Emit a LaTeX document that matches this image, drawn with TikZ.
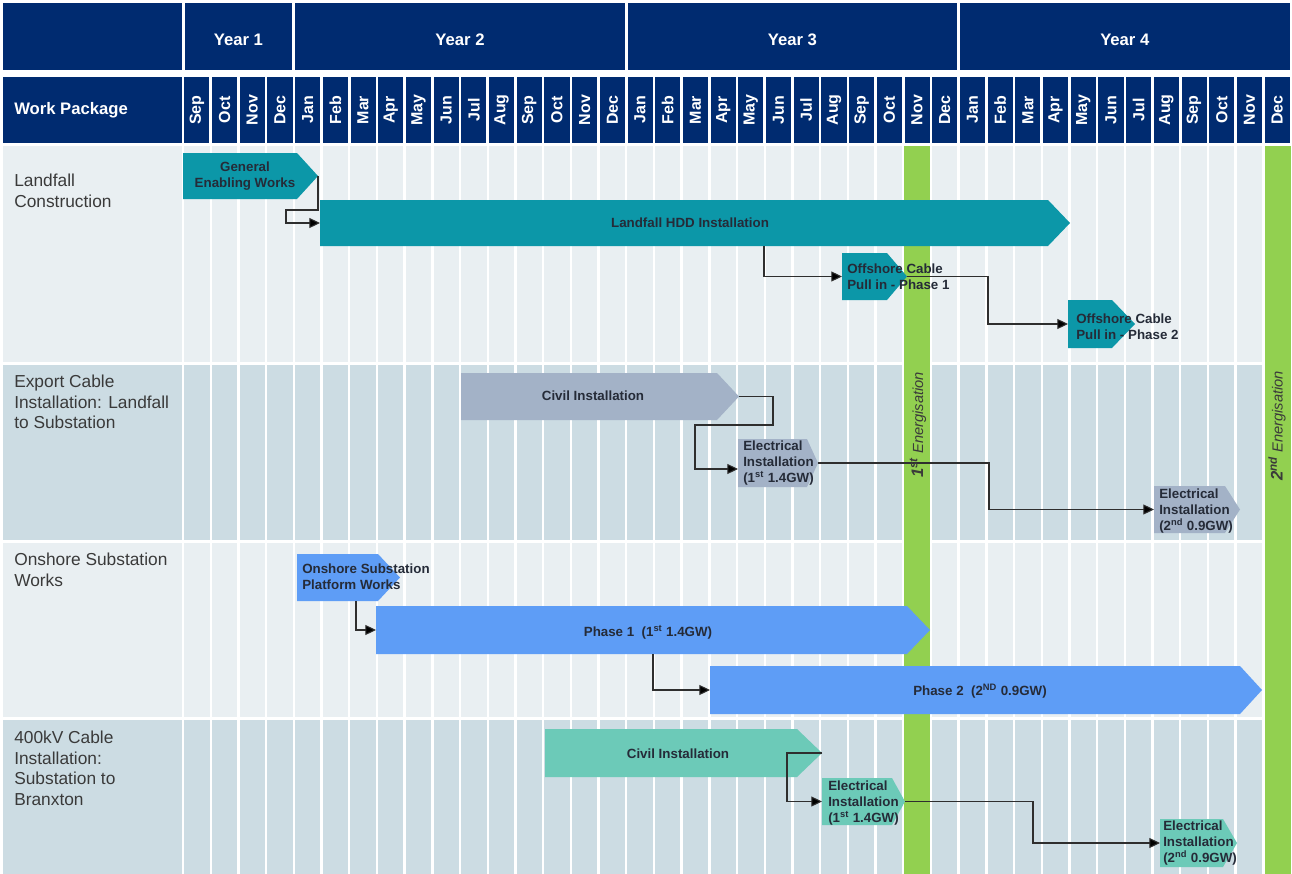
\documentclass[tikz,border=0pt]{standalone}
\usepackage{fontspec}
\setmainfont{Liberation Sans}
\usetikzlibrary{arrows.meta}
\definecolor{navy}{HTML}{002B70}
\definecolor{rowA}{HTML}{E9EFF2}
\definecolor{rowB}{HTML}{CCDCE3}
\definecolor{teal1}{HTML}{0C97A8}
\definecolor{grey2}{HTML}{A3B2C7}
\definecolor{blue3}{HTML}{5E9DF6}
\definecolor{mint4}{HTML}{6CCAB8}
\definecolor{egreen}{HTML}{92D050}
\definecolor{txt}{HTML}{252B38}
\definecolor{lab}{HTML}{3A3A3A}
\definecolor{lncol}{HTML}{2E2E2E}
\newcommand{\pent}[3]{\fill[#2] (#1.north west) -- ([xshift=-#3*0.75pt]#1.north east) -- (#1.east) -- ([xshift=-#3*0.75pt]#1.south east) -- (#1.south west) -- cycle;}
\begin{document}
\begin{tikzpicture}[x=0.75pt,y=-0.75pt,
 slot/.style={inner sep=0pt, outer sep=0pt, anchor=north west},
 hdr/.style={text=white, font=\fontsize{12.5}{15}\selectfont\bfseries, inner sep=0pt},
 month/.style={text=white, font=\fontsize{12}{14}\selectfont\bfseries, rotate=90, inner sep=0pt},
 rowlab/.style={text=lab, font=\fontsize{13}{15.4}\selectfont, align=left, anchor=north west, inner sep=0pt},
 bartxt/.style={text=txt, font=\fontsize{10}{11.8}\selectfont\bfseries, inner sep=0pt},
 conn/.style={draw=lncol, line width=0.8pt, -{Triangle[length=8pt,width=7.5pt,fill=black]}},
 energ/.style={text=lab, font=\fontsize{11}{13}\selectfont\itshape, rotate=90, inner sep=0pt}]
\path[use as bounding box, fill=white] (0,0) rectangle (1292,874);
% header year row
\fill[navy] (3,3) rectangle (181.5,70);
\fill[navy] (184.5,3) rectangle (292.3,70);
\fill[navy] (295.3,3) rectangle (624.7,70);
\fill[navy] (627.7,3) rectangle (957.1,70);
\fill[navy] (960.1,3) rectangle (1290,70);
\node[hdr] (y1) at (238.4,40) {Year 1};
\node[hdr] (y2) at (460,40) {Year 2};
\node[hdr] (y3) at (792.4,40) {Year 3};
\node[hdr] (y4) at (1124.8,40) {Year 4};
% month row
\fill[navy] (3,77) rectangle (181.5,143);
\node[hdr, anchor=west] (wp) at (14,110) {Work Package};
\foreach \m [count=\i from 0] in {Sep,Oct,Nov,Dec,Jan,Feb,Mar,Apr,May,Jun,Jul,Aug,Sep,Oct,Nov,Dec,Jan,Feb,Mar,Apr,May,Jun,Jul,Aug,Sep,Oct,Nov,Dec,Jan,Feb,Mar,Apr,May,Jun,Jul,Aug,Sep,Oct,Nov,Dec}{
  \fill[navy] ({183+27.7*\i+1.3},77) rectangle ({183+27.7*\i+27.7-1.3},143);
  \node[month] (m\i) at ({183+27.7*\i+13.85},110) {\m};
}
% body rows
\fill[rowA] (3,146) rectangle (1291,362);
\fill[rowB] (3,365) rectangle (1291,540);
\fill[rowA] (3,543) rectangle (1291,717);
\fill[rowB] (3,720) rectangle (1291,874);
\foreach \i in {0,...,40}{
  \draw[white, line width=1.8pt] ({183+27.7*\i},146) -- ({183+27.7*\i},874);
}
\fill[egreen] ({183+27.7*26+1.2},146) rectangle ({183+27.7*27-1.2},874);
\fill[egreen] ({183+27.7*39+1.2},146) rectangle ({183+27.7*40-0.5},874);
% row labels
\node[rowlab] (r1) at (14,174) {Landfall\\Construction};
\node[rowlab] (r2) at (14,375) {Export Cable\\Installation: Landfall\\to Substation};
\node[rowlab] (r3) at (14,553) {Onshore Substation\\Works};
\node[rowlab] (r4) at (14,731) {400kV Cable\\Installation:\\Substation to\\Branxton};
% bar slots
\node[slot, minimum width=135*0.75pt, minimum height=46*0.75pt] (gew) at (183,153) {};
\node[slot, minimum width=750*0.75pt, minimum height=46*0.75pt] (hdd) at (320,200) {};
\node[slot, minimum width=65*0.75pt, minimum height=47*0.75pt] (op1) at (842,253) {};
\node[slot, minimum width=67*0.75pt, minimum height=48*0.75pt] (op2) at (1068,300) {};
\node[slot, minimum width=278*0.75pt, minimum height=47*0.75pt] (civ2) at (461,373) {};
\node[slot, minimum width=80*0.75pt, minimum height=48*0.75pt] (el2a) at (738,439) {};
\node[slot, minimum width=86*0.75pt, minimum height=47*0.75pt] (el2b) at (1154,486) {};
\node[slot, minimum width=103*0.75pt, minimum height=47*0.75pt] (osp) at (297,554) {};
\node[slot, minimum width=554*0.75pt, minimum height=48*0.75pt] (ph1) at (376,606) {};
\node[slot, minimum width=552*0.75pt, minimum height=48*0.75pt] (ph2) at (710,666) {};
\node[slot, minimum width=277*0.75pt, minimum height=48*0.75pt] (civ4) at (545,729) {};
\node[slot, minimum width=83*0.75pt, minimum height=47*0.75pt] (el4a) at (822,778) {};
\node[slot, minimum width=77*0.75pt, minimum height=48*0.75pt] (el4b) at (1160,819) {};
\pent{gew}{teal1}{21}
\pent{hdd}{teal1}{22}
\pent{op1}{teal1}{20}
\pent{op2}{teal1}{23}
\pent{civ2}{grey2}{22}
\pent{el2a}{grey2}{11}
\pent{el2b}{grey2}{15}
\pent{osp}{blue3}{22}
\pent{ph1}{blue3}{23}
\pent{ph2}{blue3}{22}
\pent{civ4}{mint4}{25}
\pent{el4a}{mint4}{13}
\pent{el4b}{mint4}{14}
% connectors
\draw[conn] (gew.east) -- (318,210) -- (286,210) -- (286,223) -- (hdd.west);
\draw[conn] (hdd.south -| 764,0) -- (764,276.5) -- (op1.west);
\draw[conn] (op1.east) -- (op1.east -| 988,0) -- (988,324) -- (op2.west);
\draw[conn] (civ2.east) -- (civ2.east -| 773,0) -- (773,425) -- (695,425) -- (695,469) -- (el2a.west |- 0,469);
\draw[conn] (el2a.east) -- (el2a.east -| 989,0) -- (989,509.5) -- (el2b.west);
\draw[conn] (osp.south -| 356,0) -- (356,630) -- (ph1.west);
\draw[conn] (ph1.south -| 653,0) -- (653,690) -- (ph2.west);
\draw[conn] (civ4.east) -- (787,753) -- (787,801.5) -- (el4a.west);
\draw[conn] (el4a.east) -- (1033,801.5) -- (1033,843) -- (el4b.west);
% bar texts
\node[bartxt, align=center] (tgew) at (245,176) {General\\Enabling Works};
\node[bartxt] (thdd) at (690,223) {Landfall HDD Installation};
\node[bartxt, align=left, anchor=west] (top1) at (847,277) {Offshore Cable\\Pull in - Phase 1};
\node[bartxt, align=left, anchor=west] (top2) at (1076,327) {Offshore Cable\\Pull in - Phase 2};
\node[bartxt] (tciv2) at (593,396) {Civil Installation};
\node[bartxt, align=left, anchor=west] (tel2a) at (743,463) {Electrical\\Installation\\(1\textsuperscript{st} 1.4GW)};
\node[bartxt, align=left, anchor=west] (tel2b) at (1159,511) {Electrical\\Installation\\(2\textsuperscript{nd} 0.9GW)};
\node[bartxt, align=left, anchor=west] (tosp) at (302,577) {Onshore Substation\\Platform Works};
\node[bartxt] (tph1) at (648,632) {Phase 1\ \ (1\textsuperscript{st} 1.4GW)};
\node[bartxt] (tph2) at (980,691) {Phase 2\ \ (2\textsuperscript{ND} 0.9GW)};
\node[bartxt] (tciv4) at (678,754) {Civil Installation};
\node[bartxt, align=left, anchor=west] (tel4a) at (828,803) {Electrical\\Installation\\(1\textsuperscript{st} 1.4GW)};
\node[bartxt, align=left, anchor=west] (tel4b) at (1163,843) {Electrical\\Installation\\(2\textsuperscript{nd} 0.9GW)};
% energisation labels
\node[energ] (en1) at (918,425) {{\bfseries\fontsize{12.5}{14}\selectfont 1\textsuperscript{st}} Energisation};
\node[energ] (en2) at (1277,426) {{\bfseries\fontsize{12.5}{14}\selectfont 2\textsuperscript{nd}} Energisation};
\end{tikzpicture}
\end{document}
